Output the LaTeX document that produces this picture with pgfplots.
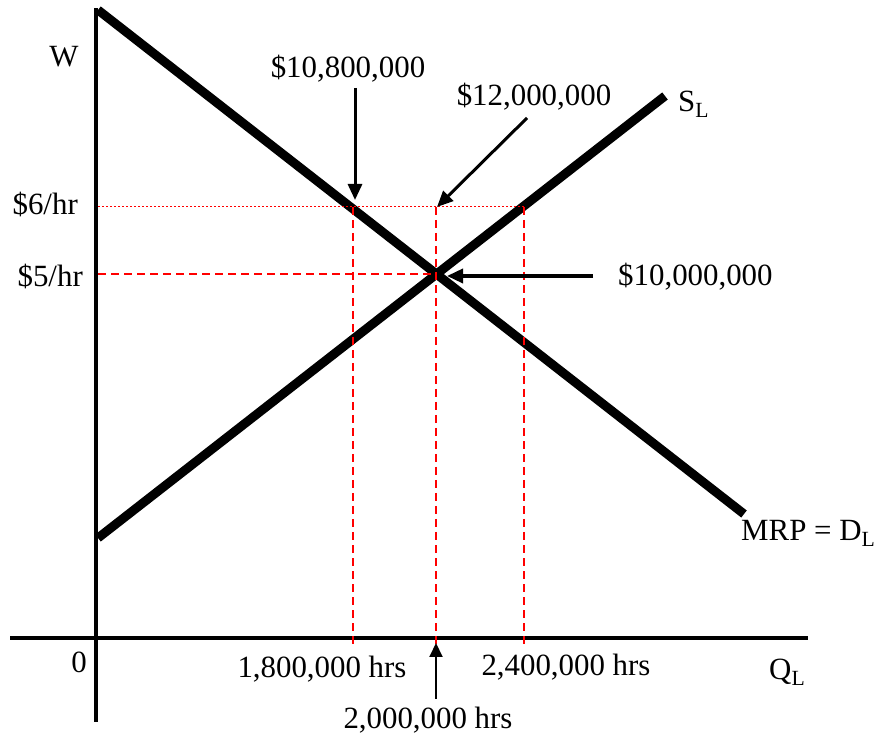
\documentclass[border=0pt]{standalone}
\usepackage{fontspec}
\setmainfont{Liberation Serif}
\usepackage{pgfplots}
\pgfplotsset{compat=1.18}
\usetikzlibrary{arrows.meta}

\tikzset{
  lbl/.style={font=\fontsize{31}{36}\selectfont, inner sep=0pt},
  guide/.style={red, line width=1.5bp, dash pattern=on 8bp off 5bp},
  big arrow/.style={line width=3bp, -{Triangle[length=16bp,width=14bp]}},
}

\begin{document}
\begin{tikzpicture}
\begin{axis}[
    x=1bp, y=1bp,
    xmin=-86, xmax=712,
    ymin=-84, ymax=630,
    hide axis,
    clip=false,
]
% page frame
\path (axis cs:-96,-100) rectangle (axis cs:783,638);

% axes
\draw[line width=3.5bp] (axis cs:-86,0) -- (axis cs:712,0);
\draw[line width=3.5bp] (axis cs:0,-84) -- (axis cs:0,630);

% demand (MRP = D_L) and supply (S_L)
\addplot[black, line width=9bp] coordinates {(2,628) (648,124)};
\addplot[black, line width=9bp] coordinates {(2,100) (569,542)};

% guide lines
\addplot[red, line width=1bp, dash pattern=on 2bp off 2bp] coordinates {(2,431) (428,431)};
\addplot[guide] coordinates {(2,364) (340,364)};
\addplot[guide] coordinates {(257,431) (257,-8)};
\addplot[guide] coordinates {(340,431) (340,-8)};
\addplot[guide] coordinates {(428,431) (428,-8)};

% arrows
\draw[big arrow] (axis cs:259,550) -- (axis cs:259,438);
\draw[big arrow] (axis cs:431,520) -- (axis cs:341,431);
\draw[line width=3.5bp, -{Triangle[length=16bp,width=14bp]}] (axis cs:497,362) -- (axis cs:351,362);
\draw[line width=2bp, -{Triangle[length=14bp,width=13bp]}] (axis cs:340,-61) -- (axis cs:340,-5);

% labels
\node[lbl, anchor=base] at (axis cs:-32,571) {W};
\node[lbl, anchor=base east] at (axis cs:-18,423) {\$6/hr};
\node[lbl, anchor=base east] at (axis cs:-13,351) {\$5/hr};
\node[lbl, anchor=base] at (axis cs:-17,-35) {0};
\node[lbl, anchor=base] at (axis cs:226,-40) {1,800,000 hrs};
\node[lbl, anchor=base] at (axis cs:470,-38) {2,400,000 hrs};
\node[lbl, anchor=base] at (axis cs:332,-91) {2,000,000 hrs};
\node[lbl, anchor=base west] at (axis cs:673,-42) {Q\textsubscript{L}};
\node[lbl, anchor=base] at (axis cs:252,560) {\$10,800,000};
\node[lbl, anchor=base] at (axis cs:438,532) {\$12,000,000};
\node[lbl, anchor=base west] at (axis cs:522,352) {\$10,000,000};
\node[lbl, anchor=base west] at (axis cs:582,526) {S\textsubscript{L}};
\node[lbl, anchor=base west] at (axis cs:645,97) {MRP = D\textsubscript{L}};
\end{axis}
\end{tikzpicture}
\end{document}
